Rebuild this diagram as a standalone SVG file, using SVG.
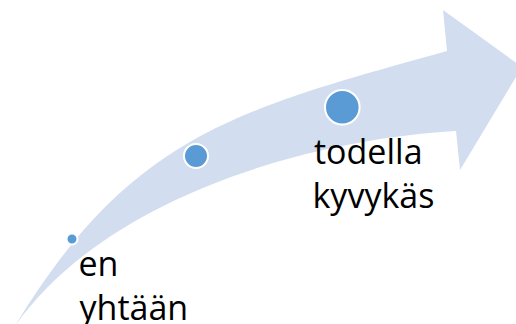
<svg xmlns="http://www.w3.org/2000/svg" width="516" height="324" viewBox="0 0 516 324">
<style>
.band{fill:#D2DEEF;stroke:none}
.dot{fill:#5B9BD5;stroke:#FFFFFF;stroke-width:2}
.lbl{font-family:"Open Sans","Noto Sans",sans-serif;font-size:34px;fill:#000000}
</style>
<rect width="516" height="324" fill="#FFFFFF"/>
<g id="connectors">
<path class="band" d="M15,326 C130,136 235,110 447,51 L443,10 L522,67 L460,170 L456,131 C300,140 103,201 15,326 Z"/>
</g>
<g id="node-start">
<circle class="dot" cx="72" cy="239" r="5.5"/>
<text class="lbl" x="78.5" y="276">en</text>
<text class="lbl" x="79.5" y="320">yhtään</text>
</g>
<g id="node-middle">
<circle class="dot" cx="196" cy="156" r="12"/>
</g>
<g id="node-end">
<circle class="dot" cx="342.3" cy="107.3" r="17.3"/>
<text class="lbl" x="314" y="164">todella</text>
<text class="lbl" x="312.5" y="208">kyvykäs</text>
</g>
</svg>
